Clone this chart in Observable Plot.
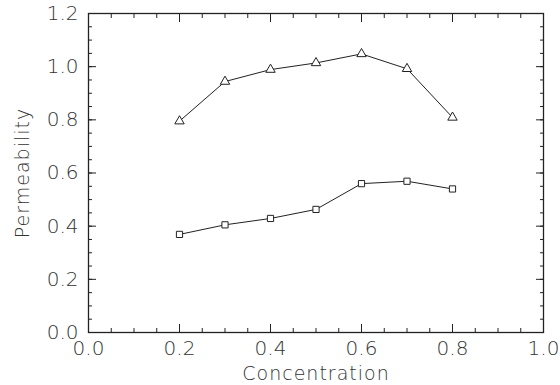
<!DOCTYPE html>
<html>
<head>
<meta charset="utf-8">
<script src="https://cdn.jsdelivr.net/npm/d3@7"></script>
<script src="https://cdn.jsdelivr.net/npm/@observablehq/plot@0.6"></script>
<style>
  html, body { margin: 0; padding: 0; background: #fff; }
  #chart svg { display: block; }
  g[aria-label="x-axis label"], g[aria-label="y-axis label"] { letter-spacing: 1px; }
</style>
</head>
<body>
<div id="chart"></div>
<script>
const concentration = [0.2, 0.3, 0.4, 0.5, 0.6, 0.7, 0.8];
const triangleSeries = [0.795, 0.944, 0.989, 1.014, 1.048, 0.992, 0.809];
const squareSeries = [0.369, 0.405, 0.429, 0.463, 0.560, 0.569, 0.540];
const xMajorTicks = [0.0, 0.2, 0.4, 0.6, 0.8, 1.0];
const yMajorTicks = [0.0, 0.2, 0.4, 0.6, 0.8, 1.0, 1.2];
const xMinorTicks = d3.range(0, 1.0001, 0.05).map(v => +v.toFixed(2));
const yMinorTicks = d3.range(0, 1.2001, 0.05).map(v => +v.toFixed(2));

const tri = concentration.map((c, i) => ({c, v: triangleSeries[i]}));
const sq = concentration.map((c, i) => ({c, v: squareSeries[i]}));

const font = "'DejaVu Sans ExtraLight', 'DejaVu Sans', sans-serif";
const ink = "#222";
const textInk = "#333";

const chart = Plot.plot({
  width: 560,
  height: 385,
  marginLeft: 88,
  marginRight: 17,
  marginTop: 13,
  marginBottom: 53,
  style: {fontFamily: font, fontSize: "20px", fontWeight: 200, color: ink, background: "#fff"},
  x: {domain: [0, 1]},
  y: {domain: [0, 1.2]},
  marks: [
    Plot.frame({stroke: ink, strokeWidth: 1.3}),
    // minor ticks (inward)
    Plot.axisX(xMinorTicks, {anchor: "bottom", tickSize: -4, tickFormat: () => "", label: null, stroke: ink}),
    Plot.axisX(xMinorTicks, {anchor: "top", tickSize: -4, tickFormat: () => "", label: null, stroke: ink}),
    Plot.axisY(yMinorTicks, {anchor: "left", tickSize: -4, tickFormat: () => "", label: null, stroke: ink}),
    Plot.axisY(yMinorTicks, {anchor: "right", tickSize: -4, tickFormat: () => "", label: null, stroke: ink}),
    // major ticks (inward)
    Plot.axisX(xMajorTicks, {anchor: "bottom", tickSize: -8, tickFormat: () => "", label: null, stroke: ink}),
    Plot.axisX(xMajorTicks, {anchor: "top", tickSize: -8, tickFormat: () => "", label: null, stroke: ink}),
    Plot.axisY(yMajorTicks, {anchor: "left", tickSize: -8, tickFormat: () => "", label: null, stroke: ink}),
    Plot.axisY(yMajorTicks, {anchor: "right", tickSize: -8, tickFormat: () => "", label: null, stroke: ink}),
    // labels
    Plot.axisX(xMajorTicks, {anchor: "bottom", tickSize: 0, tickPadding: 8, tickFormat: d3.format(".1f"),
      fontSize: 20, label: null, fill: textInk}),
    Plot.axisY(yMajorTicks, {anchor: "left", tickSize: 0, tickPadding: 10, tickFormat: d3.format(".1f"),
      fontSize: 20, label: null, fill: textInk}),
    Plot.axisX({anchor: "bottom", ticks: [], tickSize: 0, label: "Concentration", labelAnchor: "center",
      labelArrow: "none", labelOffset: 47, fontSize: 19, fill: textInk}),
    Plot.axisY({anchor: "left", ticks: [], tickSize: 0, label: "Permeability", labelAnchor: "center",
      labelArrow: "none", labelOffset: 73, fontSize: 19, fill: textInk}),
    // data
    Plot.line(tri, {x: "c", y: "v", stroke: ink, strokeWidth: 1}),
    Plot.dot(tri, {x: "c", y: "v", symbol: "triangle", r: 3.5, stroke: ink, fill: "white", strokeWidth: 1}),
    Plot.line(sq, {x: "c", y: "v", stroke: ink, strokeWidth: 1}),
    Plot.dot(sq, {x: "c", y: "v", symbol: "square", r: 3.5, stroke: ink, fill: "white", strokeWidth: 1})
  ]
});
document.getElementById("chart").appendChild(chart);
</script>
</body>
</html>
